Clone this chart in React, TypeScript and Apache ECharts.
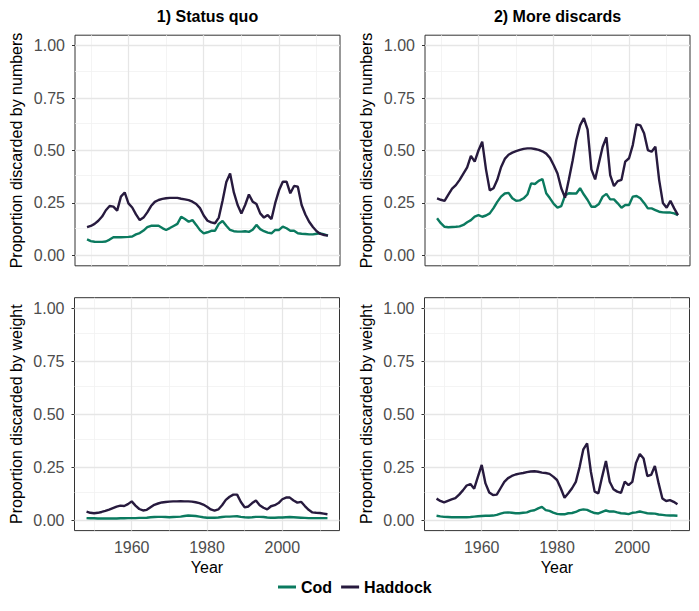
import React, { useEffect, useRef } from "react";
import * as echarts from "echarts";

const TOP_FIRST_YEAR = 1949;
const BOTTOM_FIRST_YEAR = 1948;
const X_MAJOR = [1960, 1980, 2000];
const X_MINOR = [1950, 1970, 1990, 2010];
const Y_MAJOR = [0, 0.25, 0.5, 0.75, 1];
const Y_MINOR = [0.125, 0.375, 0.625, 0.875];
const PANEL_TITLES = ["1) Status quo", "2) More discards"];
const ROW_TITLES = ["Proportion discarded by numbers", "Proportion discarded by weight"];
const X_TITLE = "Year";
const SPECIES = ["Cod", "Haddock"];
const COLORS = ["#0B7A5F", "#271A3E"];

// 1) Status quo, by numbers (1949-2013)
const codNumbersStatusQuo = [0.076,
  0.068, 0.065, 0.064, 0.064, 0.066, 0.075, 0.086, 0.086, 0.086, 0.087,
  0.088, 0.09, 0.1, 0.106, 0.118, 0.134, 0.141, 0.141, 0.141, 0.13,
  0.121, 0.13, 0.14, 0.15, 0.184, 0.173, 0.16, 0.168, 0.145, 0.12,
  0.105, 0.11, 0.117, 0.117, 0.15, 0.164, 0.141, 0.121, 0.115, 0.113,
  0.113, 0.115, 0.112, 0.122, 0.145, 0.125, 0.115, 0.108, 0.105, 0.121,
  0.121, 0.137, 0.129, 0.117, 0.117, 0.105, 0.103, 0.102, 0.1, 0.1,
  0.103, 0.105, 0.1, 0.094];
const haddockNumbersStatusQuo = [0.134,
  0.14, 0.15, 0.165, 0.185, 0.215, 0.235, 0.232, 0.213, 0.28, 0.3,
  0.248, 0.228, 0.195, 0.168, 0.18, 0.205, 0.235, 0.255, 0.264, 0.269,
  0.272, 0.274, 0.274, 0.274, 0.27, 0.267, 0.263, 0.256, 0.245, 0.225,
  0.19, 0.165, 0.157, 0.153, 0.18, 0.26, 0.35, 0.39, 0.3, 0.24,
  0.2, 0.24, 0.29, 0.256, 0.245, 0.2, 0.18, 0.192, 0.173, 0.25,
  0.31, 0.351, 0.351, 0.296, 0.331, 0.327, 0.24, 0.195, 0.16, 0.135,
  0.115, 0.102, 0.097, 0.094];

// 2) More discards, by numbers (1949-2013)
const codNumbersMore = [0.177,
  0.153, 0.136, 0.134, 0.135, 0.136, 0.138, 0.145, 0.158, 0.168, 0.185,
  0.192, 0.184, 0.19, 0.2, 0.225, 0.255, 0.28, 0.295, 0.298, 0.272,
  0.26, 0.262, 0.272, 0.29, 0.343, 0.34, 0.355, 0.364, 0.296, 0.272,
  0.245, 0.228, 0.235, 0.285, 0.296, 0.295, 0.295, 0.32, 0.29, 0.264,
  0.232, 0.232, 0.245, 0.28, 0.293, 0.267, 0.267, 0.248, 0.227, 0.24,
  0.24, 0.28, 0.283, 0.272, 0.25, 0.224, 0.224, 0.216, 0.208, 0.205,
  0.204, 0.204, 0.2, 0.192];
const haddockNumbersMore = [0.272,
  0.265, 0.26, 0.29, 0.318, 0.335, 0.36, 0.39, 0.42, 0.474, 0.447,
  0.5, 0.542, 0.41, 0.31, 0.32, 0.36, 0.42, 0.46, 0.48, 0.49,
  0.497, 0.503, 0.508, 0.51, 0.51, 0.507, 0.503, 0.496, 0.485, 0.465,
  0.43, 0.39, 0.32, 0.275, 0.36, 0.45, 0.55, 0.62, 0.655, 0.6,
  0.41, 0.362, 0.44, 0.518, 0.563, 0.383, 0.33, 0.354, 0.36, 0.447,
  0.463, 0.526, 0.625, 0.62, 0.582, 0.502, 0.494, 0.518, 0.36, 0.25,
  0.227, 0.26, 0.224, 0.192];

// 1) Status quo, by weight (1948-2012)
const codWeightStatusQuo = [0.009, 0.008,
  0.008, 0.007, 0.007, 0.007, 0.007, 0.007, 0.007, 0.008, 0.008, 0.009,
  0.009, 0.009, 0.01, 0.01, 0.011, 0.013, 0.014, 0.015, 0.015, 0.014,
  0.013, 0.014, 0.015, 0.016, 0.019, 0.021, 0.02, 0.019, 0.016, 0.013,
  0.011, 0.011, 0.011, 0.012, 0.014, 0.016, 0.016, 0.017, 0.018, 0.015,
  0.013, 0.012, 0.013, 0.015, 0.015, 0.014, 0.012, 0.011, 0.011, 0.012,
  0.012, 0.013, 0.014, 0.013, 0.012, 0.011, 0.01, 0.009, 0.009, 0.009,
  0.009, 0.009, 0.009];
const haddockWeightStatusQuo = [0.04, 0.034,
  0.032, 0.034, 0.038, 0.043, 0.049, 0.056, 0.063, 0.068, 0.066, 0.075,
  0.088, 0.068, 0.052, 0.045, 0.048, 0.06, 0.072, 0.078, 0.083, 0.085,
  0.087, 0.088, 0.088, 0.089, 0.088, 0.088, 0.087, 0.084, 0.08, 0.073,
  0.063, 0.05, 0.044, 0.05, 0.07, 0.095, 0.11, 0.12, 0.12, 0.085,
  0.06, 0.064, 0.08, 0.092, 0.07, 0.058, 0.05, 0.065, 0.07, 0.08,
  0.098, 0.106, 0.106, 0.092, 0.082, 0.086, 0.066, 0.048, 0.036, 0.034,
  0.033, 0.03, 0.027];

// 2) More discards, by weight (1948-2012)
const codWeightMore = [0.02, 0.017,
  0.015, 0.014, 0.013, 0.013, 0.013, 0.013, 0.013, 0.014, 0.016, 0.018,
  0.019, 0.02, 0.02, 0.021, 0.024, 0.03, 0.035, 0.036, 0.034, 0.032,
  0.032, 0.034, 0.036, 0.043, 0.046, 0.055, 0.062, 0.047, 0.043, 0.035,
  0.029, 0.027, 0.027, 0.032, 0.033, 0.038, 0.047, 0.05, 0.048, 0.04,
  0.033, 0.031, 0.038, 0.045, 0.04, 0.041, 0.036, 0.032, 0.031, 0.028,
  0.034, 0.036, 0.04, 0.036, 0.032, 0.031, 0.03, 0.026, 0.024, 0.022,
  0.021, 0.021, 0.02];
const haddockWeightMore = [0.101, 0.09,
  0.083, 0.09, 0.097, 0.103, 0.12, 0.14, 0.163, 0.17, 0.148, 0.205,
  0.26, 0.173, 0.13, 0.118, 0.12, 0.15, 0.18, 0.198, 0.208, 0.215,
  0.219, 0.222, 0.226, 0.229, 0.23, 0.228, 0.224, 0.222, 0.218, 0.205,
  0.189, 0.15, 0.105, 0.126, 0.15, 0.18, 0.25, 0.334, 0.362, 0.228,
  0.134, 0.126, 0.205, 0.279, 0.181, 0.145, 0.134, 0.128, 0.181, 0.165,
  0.18, 0.27, 0.312, 0.291, 0.208, 0.213, 0.255, 0.173, 0.102, 0.09,
  0.094, 0.086, 0.074];

const FONT = "'Liberation Sans', Arial, Helvetica, sans-serif";

export default function App() {
  const ref = useRef<HTMLDivElement>(null);

  useEffect(() => {
    if (!ref.current) return;
    const chart = echarts.init(ref.current, undefined, { renderer: "svg" });

    const panels = [
      { left: 75, top: 35.2, width: 265, height: 230.6, first: TOP_FIRST_YEAR, xmin: 1945.8, xmax: 2016.2, row: 0, col: 0, cod: codNumbersStatusQuo, had: haddockNumbersStatusQuo },
      { left: 425, top: 35.2, width: 265, height: 230.6, first: TOP_FIRST_YEAR, xmin: 1945.8, xmax: 2016.2, row: 0, col: 1, cod: codNumbersMore, had: haddockNumbersMore },
      { left: 74.5, top: 297.7, width: 265, height: 232.9, first: BOTTOM_FIRST_YEAR, xmin: 1944.8, xmax: 2015.2, row: 1, col: 0, cod: codWeightStatusQuo, had: haddockWeightStatusQuo },
      { left: 424.5, top: 297.7, width: 265, height: 232.9, first: BOTTOM_FIRST_YEAR, xmin: 1944.8, xmax: 2015.2, row: 1, col: 1, cod: codWeightMore, had: haddockWeightMore },
    ];

    const grids: any[] = [];
    const xAxes: any[] = [];
    const yAxes: any[] = [];
    const series: any[] = [];
    const graphics: any[] = [];

    const gridLine = (key: "xAxis" | "yAxis", v: number, major: boolean) => ({
      [key]: v,
      lineStyle: major
        ? { color: "#E6E6E6", width: 1.3, type: "solid" }
        : { color: "#F1F1F1", width: 0.8, type: "solid" },
    });

    panels.forEach((p, i) => {
      grids.push({
        left: p.left, top: p.top, width: p.width, height: p.height,
        show: true, borderColor: "#333333", borderWidth: 1, backgroundColor: "#ffffff",
        containLabel: false,
      });
      const axisText = { color: "#4D4D4D", fontSize: 16, fontFamily: FONT };
      xAxes.push({
        type: "value", gridIndex: i, min: p.xmin, max: p.xmax,
        axisLine: { show: false },
        axisTick: { show: true, customValues: X_MAJOR, length: 3, inside: false, lineStyle: { color: "#333333", width: 1 } },
        axisLabel: { show: p.row === 1, customValues: X_MAJOR, margin: 9, formatter: (v: number) => String(Math.round(v)), ...axisText },
        splitLine: { show: false },
      });
      yAxes.push({
        type: "value", gridIndex: i, min: -0.05, max: 1.05,
        axisLine: { show: false },
        axisTick: { show: true, customValues: Y_MAJOR, length: 3, inside: false, lineStyle: { color: "#333333", width: 1 } },
        axisLabel: { show: true, customValues: Y_MAJOR, margin: 10, formatter: (v: number) => v.toFixed(2), ...axisText },
        splitLine: { show: false },
      });
      // grid lines drawn through the panel's own axes, below the data lines
      series.push({
        type: "line", name: "grid" + i, xAxisIndex: i, yAxisIndex: i, data: [],
        silent: true, z: 1, zlevel: 0, showSymbol: false,
        markLine: {
          silent: true, z: 1, symbol: ["none", "none"], label: { show: false },
          emphasis: { disabled: true }, animation: false,
          data: [
            ...X_MINOR.map((v) => gridLine("xAxis", v, false)),
            ...Y_MINOR.map((v) => gridLine("yAxis", v, false)),
            ...X_MAJOR.map((v) => gridLine("xAxis", v, true)),
            ...Y_MAJOR.map((v) => gridLine("yAxis", v, true)),
          ],
        },
      });
      const sets = [p.cod, p.had];
      sets.forEach((arr, s) => {
        series.push({
          type: "line", name: SPECIES[s], xAxisIndex: i, yAxisIndex: i,
          data: arr.map((v, k) => [p.first + k, v]),
          showSymbol: false, symbol: "none", color: COLORS[s],
          lineStyle: { color: COLORS[s], width: 2.4 },
          z: 6 + s,
        });
      });
      const cx = p.left + p.width / 2;
      if (p.row === 0) {
        graphics.push({
          type: "text", x: cx, y: 16,
          style: { text: PANEL_TITLES[p.col], fontSize: 16, fontWeight: "bold", fontFamily: FONT, fill: "#000", align: "center", verticalAlign: "middle" },
        });
      }
      if (p.row === 1) {
        graphics.push({
          type: "text", x: cx, y: 567,
          style: { text: X_TITLE, fontSize: 16, fontFamily: FONT, fill: "#000", align: "center", verticalAlign: "middle" },
        });
      }
      graphics.push({
        type: "text", x: p.left - 58.5, y: p.top + p.height / 2, rotation: Math.PI / 2,
        style: { text: ROW_TITLES[p.row], fontSize: 16, fontFamily: FONT, fill: "#000", align: "center", verticalAlign: "middle" },
      });
    });

    chart.setOption({
      animation: false,
      backgroundColor: "#ffffff",
      textStyle: { fontFamily: FONT },
      grid: grids,
      xAxis: xAxes,
      yAxis: yAxes,
      series,
      legend: {
        data: SPECIES, left: 278, top: 579, padding: 0, icon: "rect",
        itemWidth: 18, itemHeight: 3, itemGap: 9, selectedMode: false,
        textStyle: { fontSize: 16, fontWeight: "bold", color: "#000", fontFamily: FONT },
      },
      graphic: graphics,
    });

    return () => chart.dispose();
  }, []);

  return (
    <div
      ref={ref}
      style={{ position: "absolute", left: 0, top: 0, width: 699, height: 611 }}
    />
  );
}
